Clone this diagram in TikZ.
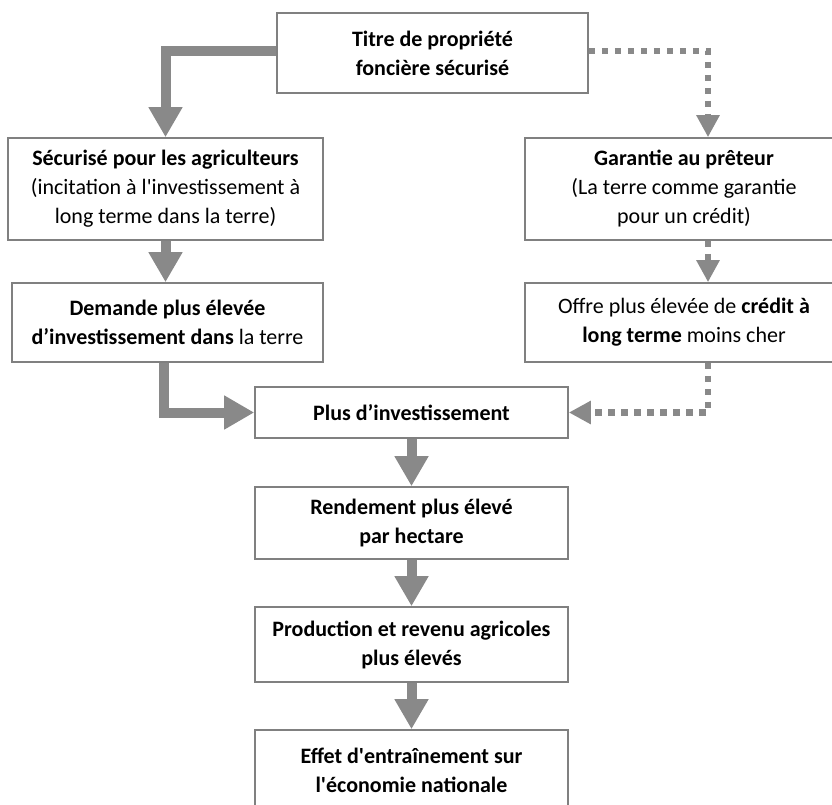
\documentclass[tikz,border=0pt]{standalone}
\usepackage{fontspec}
\setmainfont{Carlito}
\usepackage{tikz}
\usetikzlibrary{arrows.meta}
\usepackage{xcolor}
\definecolor{boxgray}{RGB}{128,128,128}
\definecolor{arrowgray}{RGB}{137,137,137}
\tikzset{
  box/.style={draw=boxgray, line width=1.6pt, fill=white, align=center, inner sep=0pt,
    font=\fontsize{22}{29}\selectfont},
  solidarrow/.style={draw=arrowgray, line width=10pt, -{Triangle[width=32pt,length=30pt]}},
  dotarrow/.style={draw=arrowgray, line width=6.5pt, dash pattern=on 6.5pt off 6.5pt,
    -{Triangle[width=22pt,length=22pt]}}
}

\begin{document}
\begin{tikzpicture}[x=1pt, y=1pt]
  \clip (0,0) rectangle (832,-804);
  \node[box, minimum width=311pt, minimum height=80pt] (titre) at (432.5,-53)
    {\textbf{Titre de propriété}\\\textbf{foncière sécurisé}};
  \node[box, minimum width=315pt, minimum height=102pt] (secur) at (165.5,-189)
    {\textbf{Sécurisé pour les agriculteurs}\\(incitation à l\textquotesingle investissement à\\long terme dans la terre)};
  \node[box, minimum width=318pt, minimum height=102pt] (garant) at (684,-189)
    {\textbf{Garantie au prêteur}\\(La terre comme garantie\\pour un crédit)};
  \node[box, minimum width=311pt, minimum height=79pt] (demande) at (167.5,-322.5)
    {\textbf{Demande plus élevée}\\\textbf{d’investissement dans} la terre};
  \node[box, minimum width=318pt, minimum height=79pt] (offre) at (684,-322.5)
    {Offre plus élevée de \textbf{crédit à}\\\textbf{long terme} moins cher};
  \node[box, minimum width=313pt, minimum height=51pt] (plus) at (411.5,-412.5)
    {\textbf{Plus d’investissement}};
  \node[box, minimum width=313pt, minimum height=72pt] (rend) at (411.5,-523)
    {\textbf{Rendement plus élevé}\\\textbf{par hectare}};
  \node[box, minimum width=313pt, minimum height=75pt] (prod) at (411.5,-644.5)
    {\textbf{Production et revenu agricoles}\\\textbf{plus élevés}};
  \node[box, minimum width=313pt, minimum height=80pt] (effet) at (411.5,-770)
    {\textbf{Effet d\textquotesingle entraînement sur}\\\textbf{l\textquotesingle économie nationale}};

  % left branch
  \draw[solidarrow] ([yshift=2pt]titre.west) -| (secur.north);
  \draw[solidarrow] (secur.south) -- (secur.south |- demande.north);
  \draw[solidarrow] ([xshift=-4pt]demande.south) |- (plus.west);
  % right branch
  \draw[dotarrow] ([yshift=2pt]titre.east) -| ([xshift=24pt]garant.north);
  \draw[dotarrow] ([xshift=24pt]garant.south) -- ([xshift=24pt]offre.north);
  \draw[dotarrow] ([xshift=24pt]offre.south) |- (plus.east);
  % main column
  \draw[solidarrow] (plus.south) -- (rend.north);
  \draw[solidarrow] (rend.south) -- (prod.north);
  \draw[solidarrow] (prod.south) -- (effet.north);
\end{tikzpicture}
\end{document}
